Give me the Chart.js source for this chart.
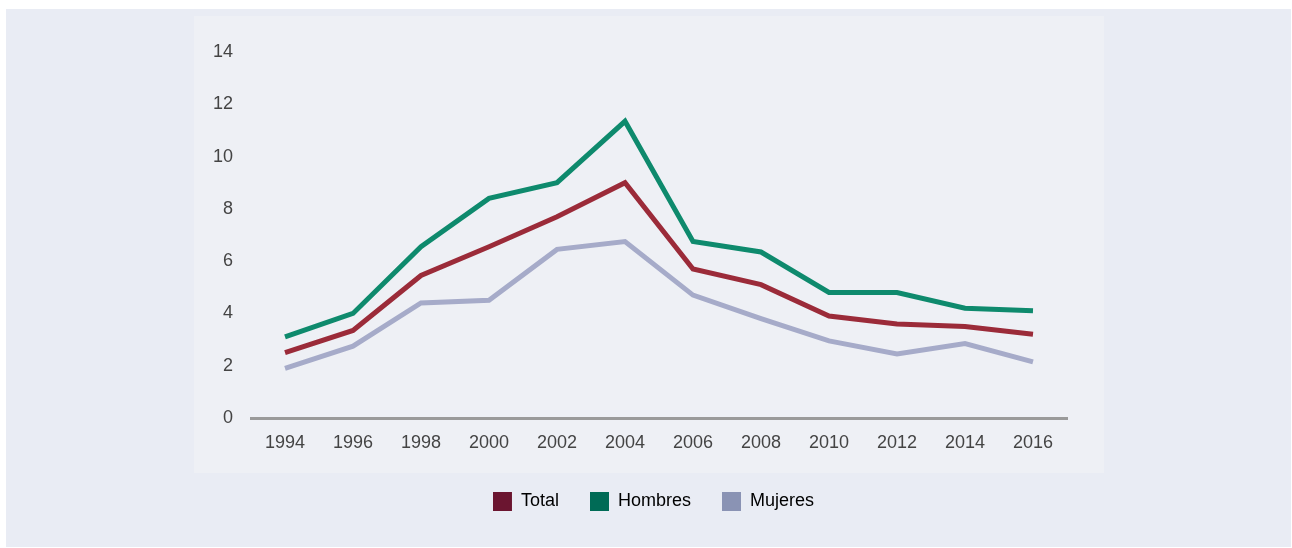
<!DOCTYPE html>
<html>
<head>
<meta charset="utf-8">
<script src="https://cdn.jsdelivr.net/npm/chart.js@4/dist/chart.umd.min.js"></script>
<style>
  html, body { margin: 0; padding: 0; background: #ffffff; }
  body { width: 1292px; height: 548px; position: relative; overflow: hidden; }
  .outer { position: absolute; left: 6px; top: 9px; width: 1285px; height: 538px; background: #e9ecf4; }
  .panel { position: absolute; left: 194px; top: 16px; width: 910px; height: 457px; background: #eef0f5; }
  #wrap { position: absolute; left: 0; top: 0; width: 1292px; height: 548px; }
</style>
</head>
<body>
<div class="outer"></div>
<div class="panel"></div>
<div id="wrap"><canvas id="chart"></canvas></div>
<script>
(function () {
  'use strict';

  var years = ['1994', '1996', '1998', '2000', '2002', '2004', '2006', '2008', '2010', '2012', '2014', '2016'];
  var total = [2.5, 3.35, 5.45, 6.55, 7.7, 9.0, 5.7, 5.1, 3.9, 3.6, 3.5, 3.2];
  var hombres = [3.1, 4.0, 6.55, 8.4, 9.0, 11.35, 6.75, 6.35, 4.8, 4.8, 4.2, 4.1];
  var mujeres = [1.9, 2.75, 4.4, 4.5, 6.45, 6.75, 4.7, 3.8, 2.95, 2.45, 2.85, 2.15];

  var maroon = '#9b2b39';
  var green = '#0e8a6d';
  var lilac = '#a6abc9';
  var legendColors = { 'Total': '#6b1530', 'Hombres': '#006b56', 'Mujeres': '#8a93b4' };

  Chart.defaults.font.family = "'Liberation Sans', Arial, sans-serif";
  Chart.defaults.color = '#444444';

  function series(label, values, color) {
    return {
      label: label,
      data: values,
      borderColor: color,
      backgroundColor: color,
      borderWidth: 5,
      pointRadius: 0,
      tension: 0,
      fill: false
    };
  }

  // legend sits centred under the whole panel, not under the plot area
  var shiftLegend = {
    id: 'shiftLegend',
    afterLayout: function (chart) {
      if (chart.legend) {
        chart.legend.left += 20;
        chart.legend.right += 20;
      }
    }
  };

  new Chart(document.getElementById('chart'), {
    type: 'line',
    data: {
      labels: years,
      datasets: [
        series('Total', total, maroon),
        series('Hombres', hombres, green),
        series('Mujeres', mujeres, lilac)
      ]
    },
    plugins: [shiftLegend],
    options: {
      responsive: true,
      maintainAspectRatio: false,
      animation: false,
      layout: { padding: { left: 200, right: 225, top: 52, bottom: 27 } },
      plugins: {
        tooltip: { enabled: false },
        legend: {
          position: 'bottom',
          labels: {
            boxWidth: 19,
            boxHeight: 19,
            padding: 31,
            color: '#444444',
            font: { size: 18 },
            generateLabels: function (chart) {
              return chart.data.datasets.map(function (ds, i) {
                return {
                  text: ds.label,
                  fillStyle: legendColors[ds.label],
                  strokeStyle: legendColors[ds.label],
                  lineWidth: 0,
                  datasetIndex: i,
                  hidden: false
                };
              });
            }
          }
        }
      },
      scales: {
        x: {
          offset: true,
          grid: { display: false, drawTicks: false },
          border: { display: true, color: '#9a9a9a', width: 3 },
          ticks: { padding: 14, font: { size: 18 }, color: '#444444', maxRotation: 0 },
          afterFit: function (scale) { scale.height = 43; }
        },
        y: {
          min: 0,
          max: 14,
          grid: { display: false, drawTicks: false },
          border: { display: false },
          ticks: { stepSize: 2, padding: 18, font: { size: 18 }, color: '#444444' },
          afterFit: function (scale) { scale.width = 51; }
        }
      }
    }
  });
})();
</script>
</body>
</html>
